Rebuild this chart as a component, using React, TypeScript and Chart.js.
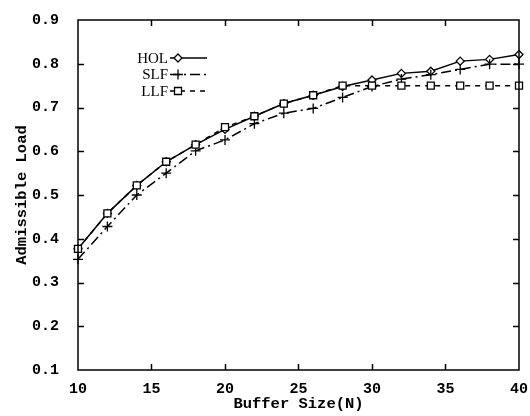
import React, { useEffect, useRef } from "react";
import { Chart, registerables } from "chart.js";

Chart.register(...registerables);

// Buffer sizes on the x axis
const bufferSizes = [10, 12, 14, 16, 18, 20, 22, 24, 26, 28, 30, 32, 34, 36, 38, 40];

// Admissible load per scheduling policy
const holLoad = [0.377, 0.458, 0.522, 0.576, 0.615, 0.650, 0.680, 0.709, 0.728, 0.748, 0.763, 0.778, 0.783, 0.806, 0.810, 0.821];
const slfLoad = [0.353, 0.428, 0.500, 0.550, 0.601, 0.626, 0.663, 0.687, 0.698, 0.723, 0.748, 0.765, 0.775, 0.787, 0.799, 0.799];
const llfLoad = [0.377, 0.458, 0.522, 0.576, 0.615, 0.655, 0.680, 0.709, 0.728, 0.750, 0.750, 0.750, 0.750, 0.750, 0.750, 0.750];

const seriesNames = ["HOL", "SLF", "LLF"];

const xTickValues = [10, 15, 20, 25, 30, 35, 40];
const yTickValues = [0.1, 0.2, 0.3, 0.4, 0.5, 0.6, 0.7, 0.8, 0.9];

const MONO = "'Liberation Mono', 'DejaVu Sans Mono', monospace";
const SERIF = "'Liberation Serif', 'DejaVu Serif', serif";

type Marker = "diamond" | "plus" | "square";

function drawMarker(ctx: CanvasRenderingContext2D, kind: Marker, x: number, y: number) {
  ctx.save();
  ctx.setLineDash([]);
  ctx.lineWidth = 1.3;
  ctx.strokeStyle = "#000";
  ctx.fillStyle = "#fff";
  ctx.beginPath();
  if (kind === "diamond") {
    const r = 4;
    ctx.moveTo(x, y - r);
    ctx.lineTo(x + r, y);
    ctx.lineTo(x, y + r);
    ctx.lineTo(x - r, y);
    ctx.closePath();
    ctx.fill();
    ctx.stroke();
  } else if (kind === "square") {
    const h = 3.5;
    ctx.rect(x - h, y - h, 2 * h, 2 * h);
    ctx.fill();
    ctx.stroke();
  } else {
    const r = 5;
    ctx.moveTo(x - r, y);
    ctx.lineTo(x + r, y);
    ctx.moveTo(x, y - r);
    ctx.lineTo(x, y + r);
    ctx.stroke();
  }
  ctx.restore();
}

const markers: Marker[] = ["diamond", "plus", "square"];
const dashes: number[][] = [[], [10, 4, 2, 4], [5, 5]];

// Frame with inward ticks on all four sides, plus the key
const framePlugin = {
  id: "frameAndKey",
  afterDatasetsDraw(chart: any) {
    const { ctx, chartArea: a, scales } = chart;
    const xs = scales.x;
    const ys = scales.y;
    ctx.save();
    ctx.strokeStyle = "#000";
    ctx.lineWidth = 1.5;
    ctx.setLineDash([]);
    ctx.strokeRect(a.left, a.top, a.right - a.left, a.bottom - a.top);
    const tl = 6;
    ctx.beginPath();
    xTickValues.slice(1, -1).forEach((v) => {
      const px = Math.round(xs.getPixelForValue(v)) + 0.5;
      ctx.moveTo(px, a.bottom);
      ctx.lineTo(px, a.bottom - tl);
      ctx.moveTo(px, a.top);
      ctx.lineTo(px, a.top + tl);
    });
    yTickValues.slice(1, -1).forEach((v) => {
      const py = Math.round(ys.getPixelForValue(v)) + 0.5;
      ctx.moveTo(a.left, py);
      ctx.lineTo(a.left + tl, py);
      ctx.moveTo(a.right, py);
      ctx.lineTo(a.right - tl, py);
    });
    ctx.stroke();

    // key
    const textRight = 168;
    const lineStart = 170;
    const lineEnd = 207;
    const markX = 178;
    chart.data.datasets.forEach((ds: any, i: number) => {
      const y = 58 + i * 16.5;
      ctx.fillStyle = "#000";
      ctx.font = `15px ${SERIF}`;
      ctx.textAlign = "right";
      ctx.textBaseline = "middle";
      ctx.fillText(ds.label, textRight, y + 1);
      ctx.beginPath();
      ctx.lineWidth = 1.5;
      ctx.setLineDash(dashes[i]);
      ctx.moveTo(lineStart, y);
      ctx.lineTo(lineEnd, y);
      ctx.stroke();
      drawMarker(ctx, markers[i], markX, y);
    });
    ctx.restore();
  },
};

// Hollow markers drawn over the lines
const markerPlugin = {
  id: "seriesMarkers",
  afterDatasetsDraw(chart: any) {
    const { ctx } = chart;
    chart.data.datasets.forEach((_ds: any, i: number) => {
      const meta = chart.getDatasetMeta(i);
      meta.data.forEach((pt: any) => drawMarker(ctx, markers[i], pt.x, pt.y));
    });
  },
};

export default function App() {
  const canvasRef = useRef<HTMLCanvasElement | null>(null);

  useEffect(() => {
    if (!canvasRef.current) return;
    const mk = (vals: number[]) => bufferSizes.map((x, i) => ({ x, y: vals[i] }));
    const chart = new Chart(canvasRef.current, {
      type: "line",
      data: {
        datasets: [holLoad, slfLoad, llfLoad].map((vals, i) => ({
          label: seriesNames[i],
          data: mk(vals),
          borderColor: "#000",
          borderWidth: 1.5,
          borderDash: dashes[i],
          pointRadius: 0,
          fill: false,
          tension: 0,
          clip: false as any,
        })),
      },
      options: {
        responsive: false,
        animation: false,
        devicePixelRatio: 1,
        layout: { padding: { top: 12, right: 11, left: 0, bottom: 0 } },
        plugins: {
          legend: { display: false },
          tooltip: { enabled: false },
        },
        scales: {
          x: {
            type: "linear",
            min: 10,
            max: 40,
            afterFit: (s: any) => {
              s.height = 46;
            },
            grid: { display: false },
            border: { display: false },
            afterBuildTicks: (s: any) => {
              s.ticks = xTickValues.map((v) => ({ value: v }));
            },
            ticks: {
              color: "#000",
              padding: 2,
              maxRotation: 0,
              font: { family: MONO, size: 15, weight: "bold" },
              callback: (v: any) => String(v),
            },
            title: {
              display: true,
              text: "Buffer Size(N)",
              color: "#000",
              padding: { top: 0, bottom: 3 },
              font: { family: MONO, size: 15.5, weight: "bold" },
            },
          },
          y: {
            type: "linear",
            min: 0.1,
            max: 0.9,
            afterFit: (s: any) => {
              s.width = 78;
            },
            grid: { display: false },
            border: { display: false },
            afterBuildTicks: (s: any) => {
              s.ticks = yTickValues.map((v) => ({ value: v }));
            },
            ticks: {
              color: "#000",
              padding: 11,
              font: { family: MONO, size: 15, weight: "bold" },
              callback: (v: any) => Number(v).toFixed(1),
            },
            title: {
              display: true,
              text: "Admissible Load",
              color: "#000",
              padding: { top: 12.5, bottom: 0 },
              font: { family: MONO, size: 15.5, weight: "bold" },
            },
          },
        },
      },
      plugins: [markerPlugin, framePlugin],
    });
    return () => chart.destroy();
  }, []);

  return (
    <div style={{ position: "fixed", left: 0, top: 0, width: 530, height: 416, background: "#fff" }}>
      <canvas ref={canvasRef} width={530} height={416} style={{ display: "block" }} />
    </div>
  );
}
